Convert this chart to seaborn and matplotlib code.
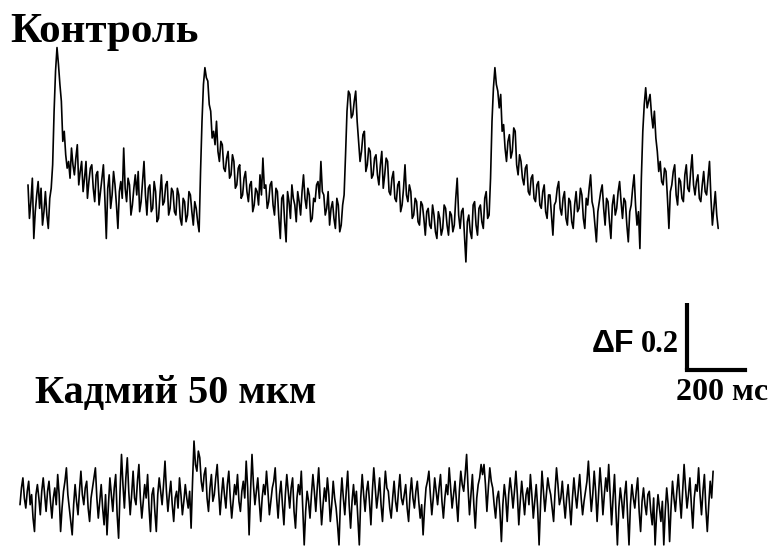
import numpy as np
import matplotlib
matplotlib.use("Agg")
import matplotlib.pyplot as plt
import seaborn as sns

# sampling interval of both records, ms
dt_ms = 5

# control record, dF relative to baseline
control_dF = [
    0.06, -0.04, 0.01, 0.08, -0.10, -0.02, 0.03, 0.07, -0.01, 0.05, -0.06, -0.02, 0.04, -0.03, -0.07, 0.02, 0.05, 0.12, 0.28, 0.40,
    0.47, 0.42, 0.36, 0.31, 0.19, 0.22, 0.15, 0.11, 0.13, 0.08, 0.17, 0.12, 0.09, 0.14, 0.18, 0.06, 0.10, 0.13, 0.04, 0.08,
    0.13, 0.02, 0.07, 0.11, 0.12, 0.05, 0.01, 0.09, 0.10, 0.00, 0.04, 0.08, 0.12, 0.02, -0.10, 0.05, 0.09, -0.01, 0.03, 0.10,
    0.06, 0.00, -0.07, 0.04, 0.07, 0.02, 0.17, 0.05, 0.01, 0.08, 0.06, -0.03, 0.00, 0.05, 0.09, 0.03, 0.10, -0.02, 0.01, 0.07,
    0.13, 0.03, -0.03, 0.05, 0.06, -0.02, -0.01, 0.07, 0.04, -0.05, -0.04, 0.03, 0.09, 0.00, 0.01, 0.06, 0.07, -0.03, -0.01, 0.05,
    0.04, -0.02, -0.03, 0.05, 0.03, -0.04, -0.06, 0.02, 0.01, -0.05, -0.03, 0.04, 0.03, -0.02, -0.06, 0.01, -0.01, -0.05, -0.08, 0.10,
    0.25, 0.36, 0.41, 0.38, 0.37, 0.30, 0.28, 0.20, 0.22, 0.18, 0.25, 0.16, 0.13, 0.19, 0.18, 0.11, 0.10, 0.14, 0.16, 0.08,
    0.09, 0.15, 0.13, 0.05, 0.06, 0.11, 0.12, 0.02, 0.03, 0.08, 0.10, 0.04, 0.01, 0.06, 0.07, -0.02, 0.00, 0.05, 0.04, 0.00,
    0.09, 0.03, 0.14, 0.05, 0.06, -0.01, 0.01, 0.06, 0.07, 0.00, -0.03, 0.05, 0.04, -0.04, -0.10, 0.02, 0.03, -0.05, -0.11, 0.04,
    0.01, -0.04, 0.06, 0.02, 0.00, -0.05, 0.04, 0.01, -0.03, 0.04, 0.09, 0.02, -0.01, 0.05, 0.03, -0.05, -0.04, 0.02, 0.01, 0.06,
    0.07, 0.02, 0.13, 0.04, 0.03, -0.03, -0.01, 0.04, -0.06, -0.01, 0.01, -0.04, -0.07, 0.02, 0.00, -0.08, -0.06, 0.00, 0.03, 0.15,
    0.28, 0.34, 0.33, 0.26, 0.27, 0.31, 0.34, 0.25, 0.19, 0.13, 0.16, 0.21, 0.22, 0.10, 0.12, 0.17, 0.16, 0.08, 0.09, 0.14,
    0.15, 0.09, 0.06, 0.12, 0.16, 0.05, 0.09, 0.14, 0.13, 0.04, 0.03, 0.08, 0.10, 0.02, 0.01, 0.06, 0.07, -0.02, 0.00, 0.05,
    0.12, 0.03, 0.01, 0.06, 0.04, -0.04, -0.03, 0.02, 0.01, -0.05, -0.06, 0.01, 0.00, -0.04, -0.09, -0.02, -0.01, -0.06, -0.07, 0.00,
    -0.03, -0.08, -0.10, -0.02, -0.04, -0.09, -0.07, 0.00, -0.01, -0.06, -0.09, -0.02, -0.03, -0.08, -0.06, 0.02, 0.08, -0.03, -0.07, -0.02,
    -0.01, -0.09, -0.17, -0.05, -0.03, -0.08, -0.10, 0.00, 0.01, -0.06, -0.09, -0.01, 0.00, -0.05, -0.07, 0.02, 0.04, -0.04, -0.03, 0.08,
    0.25, 0.35, 0.41, 0.36, 0.34, 0.29, 0.33, 0.22, 0.24, 0.17, 0.13, 0.19, 0.21, 0.14, 0.16, 0.23, 0.22, 0.12, 0.09, 0.15,
    0.13, 0.08, 0.06, 0.11, 0.12, 0.04, 0.03, 0.08, 0.09, 0.02, 0.01, 0.06, 0.07, 0.00, -0.01, 0.04, 0.06, -0.02, -0.04, 0.03,
    0.03, -0.03, -0.09, 0.00, 0.01, 0.05, 0.07, -0.01, -0.03, 0.02, 0.04, -0.04, -0.06, 0.02, 0.01, -0.05, -0.07, 0.00, 0.04, -0.02,
    -0.01, 0.05, 0.03, -0.04, -0.07, 0.02, 0.00, 0.05, 0.09, 0.01, -0.01, -0.06, -0.11, -0.02, 0.01, 0.04, 0.06, -0.01, -0.06, 0.02,
    0.01, -0.05, -0.10, 0.00, 0.03, -0.03, -0.01, 0.04, 0.07, 0.01, -0.04, 0.02, 0.01, -0.06, -0.11, -0.02, 0.00, 0.05, 0.09, 0.00,
    -0.06, -0.02, -0.13, 0.08, 0.22, 0.30, 0.35, 0.29, 0.31, 0.33, 0.27, 0.23, 0.28, 0.20, 0.16, 0.10, 0.13, 0.07, 0.06, 0.11,
    0.10, 0.02, -0.07, 0.04, 0.06, 0.10, 0.12, 0.03, 0.00, 0.08, 0.07, 0.02, 0.01, 0.09, 0.12, 0.05, 0.04, 0.10, 0.15, 0.06,
    0.03, 0.07, 0.09, 0.02, 0.01, 0.06, 0.10, 0.04, 0.03, 0.08, 0.13, 0.02, -0.06, -0.01, 0.04, -0.03, -0.07,
]

# cadmium 50 uM record, dF relative to baseline
cadmium_dF = [
    -0.02, 0.03, 0.06, 0.00, -0.03, 0.02, 0.05, -0.02, 0.01, -0.06, -0.10, 0.01, 0.04, 0.00, -0.05, 0.02, 0.06, 0.01, -0.04, 0.02,
    0.05, -0.01, -0.06, 0.00, 0.03, -0.02, 0.07, 0.01, -0.10, -0.03, 0.02, 0.05, 0.09, 0.01, -0.03, -0.07, -0.11, -0.02, 0.04, -0.01,
    -0.05, 0.02, 0.08, 0.01, -0.02, 0.03, 0.05, -0.03, -0.07, 0.00, 0.03, 0.06, 0.09, 0.00, -0.06, -0.01, 0.04, -0.03, -0.08, 0.01,
    -0.11, -0.02, 0.06, 0.01, -0.04, 0.03, 0.07, -0.05, -0.12, 0.02, 0.13, 0.04, -0.03, 0.06, 0.12, 0.02, -0.05, 0.01, 0.08, 0.00,
    -0.02, 0.05, 0.10, 0.00, -0.06, -0.01, 0.04, 0.00, 0.07, -0.03, -0.10, 0.01, 0.03, -0.04, -0.10, 0.01, 0.06, 0.02, -0.02, 0.04,
    0.11, 0.02, -0.04, 0.01, 0.05, -0.02, -0.07, 0.00, 0.02, -0.03, 0.06, 0.01, -0.05, -0.01, 0.04, 0.00, -0.03, 0.02, -0.09, 0.05,
    0.17, 0.10, 0.08, 0.14, 0.12, 0.05, 0.02, 0.07, 0.09, 0.00, -0.04, 0.03, 0.07, -0.01, 0.01, 0.06, 0.10, 0.02, -0.05, 0.01,
    0.06, 0.01, -0.03, 0.04, 0.08, 0.00, -0.06, -0.01, 0.04, 0.01, 0.07, -0.01, -0.04, 0.02, 0.05, 0.00, 0.11, 0.03, -0.11, 0.02,
    0.13, 0.04, -0.02, 0.02, 0.06, -0.01, -0.07, 0.00, 0.04, 0.01, 0.08, 0.02, -0.05, -0.01, 0.03, 0.05, 0.09, 0.00, -0.06, 0.01,
    0.05, -0.02, -0.08, 0.01, 0.07, 0.02, -0.03, 0.03, 0.06, -0.04, -0.09, 0.00, 0.04, 0.01, 0.08, -0.03, -0.14, -0.04, 0.02, -0.01,
    -0.06, 0.01, 0.07, 0.02, -0.04, 0.03, 0.09, 0.00, -0.08, -0.02, 0.03, -0.01, 0.06, 0.01, -0.07, -0.02, 0.05, 0.00, -0.03, -0.08,
    -0.14, -0.01, 0.06, 0.00, -0.05, 0.02, 0.08, -0.02, -0.09, -0.01, 0.04, -0.02, 0.02, -0.06, -0.14, 0.00, 0.07, 0.01, -0.04, 0.02,
    0.05, -0.01, -0.08, 0.02, 0.09, 0.03, -0.03, 0.01, 0.06, -0.02, -0.07, 0.01, 0.08, 0.03, 0.02, -0.03, -0.06, 0.00, 0.05, -0.01,
    -0.04, 0.02, 0.07, 0.00, -0.02, 0.01, 0.04, -0.03, -0.07, 0.01, 0.06, 0.00, -0.03, 0.02, 0.05, -0.01, -0.06, -0.02, -0.11, -0.03,
    0.03, 0.05, 0.08, 0.01, -0.05, 0.00, 0.06, 0.02, -0.02, 0.03, 0.07, -0.01, -0.06, 0.00, 0.04, 0.01, 0.09, 0.03, -0.03, 0.01,
    0.05, -0.01, -0.07, 0.02, 0.08, 0.04, 0.02, 0.07, 0.13, 0.03, -0.05, 0.01, 0.07, -0.02, -0.09, 0.00, 0.04, 0.06, 0.10, 0.07,
    0.10, 0.04, -0.04, 0.03, 0.09, 0.05, 0.03, -0.02, -0.06, 0.00, 0.02, -0.04, -0.13, -0.02, 0.04, 0.00, -0.07, 0.01, 0.06, 0.02,
    -0.03, 0.02, 0.08, 0.01, -0.08, -0.01, 0.05, 0.00, -0.05, 0.01, 0.03, -0.02, 0.07, 0.01, -0.06, -0.01, 0.04, -0.03, -0.14, -0.02,
    0.08, 0.02, -0.04, 0.01, 0.06, 0.03, 0.01, -0.03, -0.07, 0.02, 0.09, 0.04, -0.02, 0.00, 0.05, -0.01, -0.06, 0.00, 0.04, -0.02,
    -0.08, 0.00, 0.06, 0.01, -0.03, 0.02, 0.07, 0.00, -0.05, -0.01, 0.02, 0.05, 0.11, 0.03, -0.04, 0.01, 0.08, 0.02, -0.07, 0.01,
    0.09, 0.03, -0.05, 0.01, 0.06, 0.02, 0.10, 0.01, -0.08, 0.00, 0.07, -0.04, -0.14, -0.03, 0.03, -0.01, -0.06, 0.01, 0.05, -0.05,
    -0.14, -0.02, 0.04, 0.00, -0.03, 0.02, 0.06, -0.04, -0.10, -0.01, 0.03, -0.02, -0.05, 0.01, 0.02, -0.04, -0.08, 0.00, -0.14, -0.05,
    0.01, -0.03, -0.07, -0.01, -0.14, -0.04, 0.03, -0.02, -0.13, -0.03, 0.05, 0.00, -0.04, 0.02, 0.07, 0.00, -0.06, 0.02, 0.10, 0.03,
    -0.03, 0.01, 0.06, -0.02, -0.09, 0.00, 0.04, 0.02, 0.09, 0.01, -0.05, 0.02, 0.07, -0.03, -0.10, -0.02, 0.05, 0.00, 0.08,
]

# scale bar
bar_dF = 0.2
bar_ms = 200

sns.set_style("white")

W, H = 771, 546
px_per_ms = 58 / 200
px_per_dF = 335

fig = plt.figure(figsize=(W / 100, H / 100), dpi=100)
ax = fig.add_axes([0, 0, 1, 1])

# page layout in pixels: control baseline, cadmium baseline
ctrl_x0, ctrl_y0 = 28, 205
cad_x0, cad_y0 = 20, 498


def to_ms(px):
    return (px - ctrl_x0) / px_per_ms


def to_dF(py):
    return (ctrl_y0 - py) / px_per_dF


ax.set_xlim(to_ms(0), to_ms(W))
ax.set_ylim(to_dF(H), to_dF(0))
ax.axis("off")

t_ctrl = np.arange(len(control_dF)) * dt_ms
t_cad = np.arange(len(cadmium_dF)) * dt_ms

sns.lineplot(x=t_ctrl, y=np.array(control_dF), ax=ax, color="black",
             lw=1.2, sort=False, estimator=None)
sns.lineplot(x=t_cad + to_ms(cad_x0), y=np.array(cadmium_dF) + to_dF(cad_y0),
             ax=ax, color="black", lw=1.2, sort=False, estimator=None)

# scale bar corner
bx, by = to_ms(687), to_dF(370)
ax.plot([bx, bx], [by, by + bar_dF], color="black", lw=3, solid_capstyle="butt")
ax.plot([bx, bx + bar_ms], [by, by], color="black", lw=3, solid_capstyle="projecting")

serif = "Liberation Serif"
fig.text(10 / W, 1 - 42 / H, "Контроль", family=serif, weight="bold",
         fontsize=31, va="baseline", ha="left", color="black")
fig.text(35 / W, 1 - 403 / H, "Кадмий 50 мкм", family=serif, weight="bold",
         fontsize=29, va="baseline", ha="left", color="black")
fig.text(592 / W, 1 - 352 / H, "ΔF", family="Liberation Sans", weight="bold",
         fontsize=23, va="baseline", ha="left", color="black")
fig.text(679 / W, 1 - 352 / H, "0.2", family=serif, weight="bold",
         fontsize=22, va="baseline", ha="right", color="black")
fig.text(768 / W, 1 - 400 / H, "200 мс", family=serif, weight="bold",
         fontsize=23, va="baseline", ha="right", color="black")

fig.savefig("out.png", dpi=100)
